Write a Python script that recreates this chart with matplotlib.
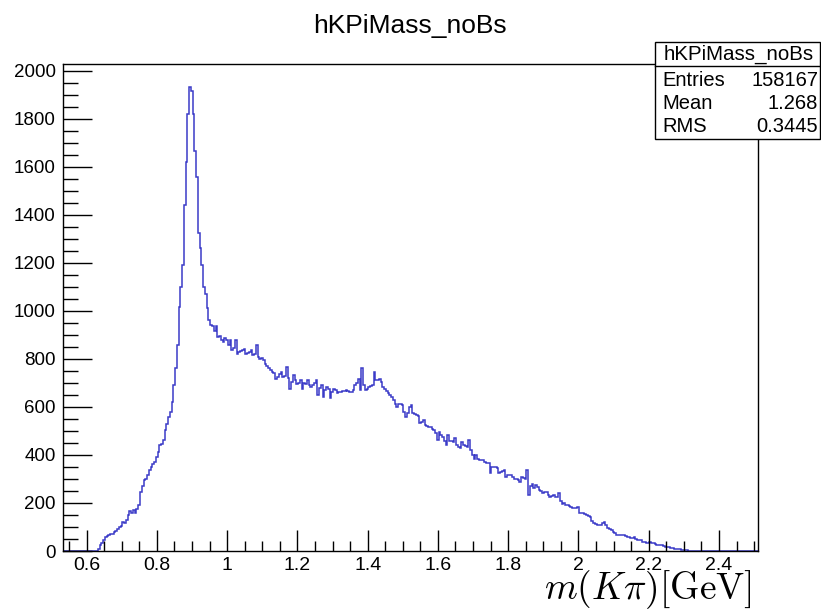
import numpy as np
import matplotlib
matplotlib.use("Agg")
import matplotlib.pyplot as plt
from matplotlib.patches import Rectangle
from matplotlib.ticker import MultipleLocator, FuncFormatter

# Histogram binning (0.005 GeV bins)
X_MIN, X_MAX, N_BINS = 0.532, 2.512, 396
FIRST_FILLED_BIN = 20

# Bin contents, starting at the first non-empty bin
bin_counts = [
    10, 25, 35, 45, 57, 62, 66, 70, 71, 80,
    85, 90, 100, 105, 120, 118, 130, 150, 165, 160,
    172, 157, 175, 190, 247, 270, 295, 300, 315, 337,
    350, 362, 370, 390, 413, 440, 445, 461, 503, 530,
    558, 580, 620, 690, 760, 857, 1016, 1100, 1189, 1439,
    1619, 1820, 1931, 1917, 1820, 1667, 1556, 1322, 1260, 1189,
    1099, 1072, 1010, 960, 940, 935, 915, 935, 890, 895,
    880, 870, 885, 880, 856, 877, 836, 845, 877, 822,
    829, 832, 835, 843, 822, 826, 830, 836, 815, 820,
    856, 808, 800, 803, 794, 780, 770, 760, 755, 746,
    740, 718, 725, 735, 746, 725, 730, 766, 720, 676,
    705, 732, 710, 697, 700, 711, 676, 700, 695, 711,
    690, 683, 690, 700, 711, 649, 680, 690, 642, 670,
    683, 675, 635, 660, 676, 670, 656, 660, 662, 665,
    665, 669, 665, 662, 662, 670, 690, 700, 718, 669,
    760, 690, 669, 676, 683, 686, 690, 746, 711, 713,
    715, 704, 683, 675, 665, 656, 649, 642, 630, 614,
    600, 614, 610, 607, 579, 558, 575, 600, 607, 573,
    570, 565, 560, 531, 538, 545, 524, 520, 518, 517,
    510, 505, 490, 462, 496, 485, 475, 460, 441, 482,
    460, 457, 454, 469, 440, 432, 427, 454, 440, 437,
    434, 462, 420, 400, 385, 399, 385, 380, 378, 378,
    370, 367, 365, 323, 351, 351, 351, 344, 323, 330,
    333, 337, 309, 316, 316, 316, 309, 300, 298, 295,
    288, 309, 305, 300, 337, 233, 270, 281, 261, 274,
    265, 254, 250, 240, 244, 247, 235, 226, 230, 233,
    225, 226, 240, 210, 195, 200, 191, 190, 188, 184,
    178, 178, 178, 184, 160, 158, 157, 155, 150, 145,
    140, 125, 118, 113, 108, 110, 108, 115, 122, 110,
    94, 91, 88, 80, 75, 67, 68, 68, 67, 65,
    62, 60, 58, 53, 55, 58, 48, 46, 45, 44,
    39, 36, 35, 34, 38, 34, 32, 30, 25, 24,
    24, 25, 22, 18, 17, 15, 14, 11, 10, 10,
    9, 7, 6, 5, 4, 3, 2, 2, 1, 1,
]

stats_title = "hKPiMass_noBs"
stats_rows = [("Entries", "158167"), ("Mean", "1.268"), ("RMS", "0.3445")]
chart_title = "hKPiMass_noBs"
x_label = r"$m(K\pi)[\mathrm{GeV}]$"

counts = np.zeros(N_BINS)
counts[FIRST_FILLED_BIN:FIRST_FILLED_BIN + len(bin_counts)] = bin_counts
edges = np.linspace(X_MIN, X_MAX, N_BINS + 1)

plt.rcParams["font.family"] = ["Liberation Sans", "DejaVu Sans"]
plt.rcParams["mathtext.fontset"] = "cm"

W, H = 821, 610
fig = plt.figure(figsize=(W / 100, H / 100), dpi=100)
ax = fig.add_axes([62.7 / W, 1 - 551 / H, (758.3 - 62.7) / W, (551 - 64) / H])

ax.stairs(counts, edges, color="#3b3bc8", linewidth=1.1)

ax.set_xlim(X_MIN, X_MAX)
ax.set_ylim(0, 1.05 * max(bin_counts))

ax.xaxis.set_major_locator(MultipleLocator(0.2))
ax.xaxis.set_minor_locator(MultipleLocator(0.05))
ax.yaxis.set_major_locator(MultipleLocator(200))
ax.yaxis.set_minor_locator(MultipleLocator(50))
ax.xaxis.set_major_formatter(FuncFormatter(lambda v, p: f"{v:g}"))

ax.tick_params(axis="x", which="major", direction="in", length=15, width=1,
               labelsize=14, pad=4)
ax.tick_params(axis="x", which="minor", direction="in", length=7.5, width=1)
ax.tick_params(axis="y", which="major", direction="in", length=21, width=1,
               labelsize=13.5, pad=5)
ax.tick_params(axis="y", which="minor", direction="in", length=10.5, width=1)
for s in ax.spines.values():
    s.set_linewidth(1.0)

fig.text(410 / W, 1 - 26 / H, chart_title, ha="center", va="center", fontsize=19)
fig.text(752 / W, 1 - 599 / H, x_label, ha="right", va="baseline", fontsize=27)

# Statistics box
bx0, bx1, by0, by1, bsep = 655, 820, 139, 42, 66
box = Rectangle((bx0 / W, 1 - by0 / H), (bx1 - bx0) / W, (by0 - by1) / H,
                transform=fig.transFigure, facecolor="white", edgecolor="black",
                linewidth=1.0, zorder=10)
fig.add_artist(box)
fig.add_artist(plt.Line2D([bx0 / W, bx1 / W], [1 - bsep / H, 1 - bsep / H],
                          transform=fig.transFigure, color="black",
                          linewidth=1.0, zorder=11))
fig.text((bx0 + bx1) / 2 / W + 0.002, 1 - 54 / H, stats_title, ha="center",
         va="center", fontsize=14.8, zorder=12)
for k, (name, val) in enumerate(stats_rows):
    yy = 1 - (80 + 23.5 * k) / H
    fig.text(662 / W, yy, name, ha="left", va="center", fontsize=14.5, zorder=12)
    fig.text(818 / W, yy, val, ha="right", va="center", fontsize=14.5, zorder=12)

fig.savefig("out.png", dpi=100)
